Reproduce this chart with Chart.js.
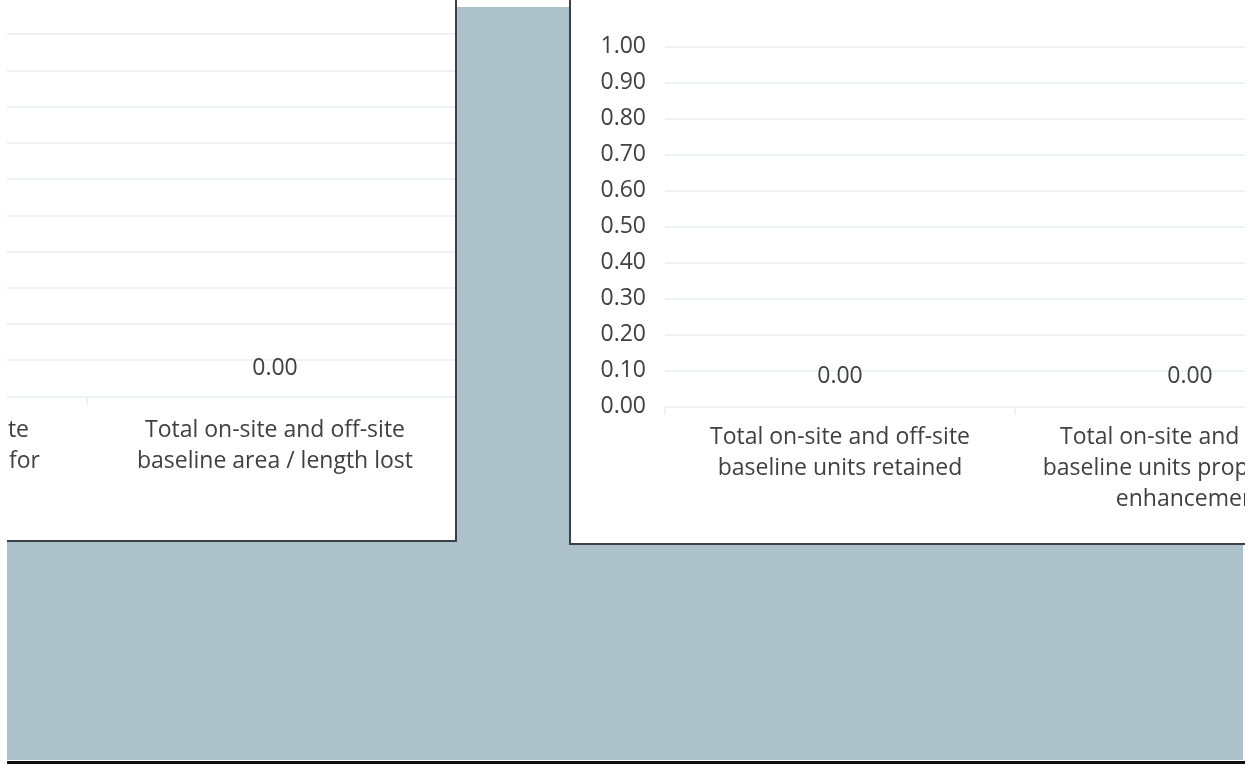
<!DOCTYPE html>
<html>
<head>
<meta charset="utf-8">
<script src="https://cdn.jsdelivr.net/npm/chart.js@4.4.1/dist/chart.umd.min.js"></script>
<style>
  html, body { margin: 0; padding: 0; background: #ffffff; }
  body { width: 1258px; height: 765px; position: relative; overflow: hidden; }
  #sheet { position: absolute; left: 7px; top: 7px; width: 1236px; height: 753px; background: #adc2c8; }
  #rule { position: absolute; left: 7px; top: 761px; width: 1238px; height: 3px; background: #0d0d0d; }
  .panel { position: absolute; background: #ffffff; overflow: hidden; border: 0 solid #3d3f4b; }
  #leftPanel { left: 7px; top: -10px; width: 448px; height: 550px; border-right-width: 2px; border-bottom-width: 2px; }
  #rightPanel { left: 569px; top: -10px; width: 674px; height: 553px; border-left-width: 2px; border-bottom-width: 2px; }
  canvas { position: absolute; }
  #leftChart { left: -766px; top: 10px; }
  #rightChart { left: 0px; top: 10px; }
</style>
</head>
<body>
<div id="sheet"></div>
<div id="rule"></div>
<div class="panel" id="leftPanel"><canvas id="leftChart" width="1222" height="541"></canvas></div>
<div class="panel" id="rightPanel"><canvas id="rightChart" width="1144" height="541"></canvas></div>
<script>
// ---- data ----
const areaCategories = [
  ["Total on-site and off-site", "baseline area / length retained"],
  ["Total on-site and off-site", "area / length proposed for", "enhancement"],
  ["Total on-site and off-site", "baseline area / length lost"]
];
const areaValues = [0, 0, 0];

const unitCategories = [
  ["Total on-site and off-site", "baseline units retained"],
  ["Total on-site and off-site", "baseline units proposed for", "enhancement"],
  ["Total on-site and off-site", "baseline units lost"]
];
const unitValues = [0, 0, 0];

const axisMin = 0;
const axisMax = 1;
const axisStep = 0.1;

// ---- style ----
const FONT = "'Open Sans'";
const FSIZE = 23;
const TEXT = "#404040";
const GRID = "#eff2f2";

const valueLabels = {
  id: "valueLabels",
  afterDatasetsDraw(chart) {
    const ctx = chart.ctx;
    const meta = chart.getDatasetMeta(0);
    const data = chart.data.datasets[0].data;
    const off = chart.options.plugins.valueLabels.offset;
    ctx.save();
    ctx.font = FSIZE + "px " + FONT;
    ctx.fillStyle = TEXT;
    ctx.textAlign = "center";
    ctx.textBaseline = "middle";
    meta.data.forEach((bar, i) => {
      ctx.fillText(Number(data[i]).toFixed(2), bar.x, bar.y - off);
    });
    ctx.restore();
  }
};

function makeChart(id, labels, values, yWidth, topPad, xHeight, labelPad, valOff) {
  return new Chart(document.getElementById(id), {
    type: "bar",
    data: {
      labels: labels,
      datasets: [{ data: values, backgroundColor: "#7f9fa8", borderWidth: 0 }]
    },
    plugins: [valueLabels],
    options: {
      responsive: false,
      animation: false,
      layout: { padding: { top: topPad, right: 0, bottom: 0, left: 0 } },
      plugins: { legend: { display: false }, tooltip: { enabled: false }, valueLabels: { offset: valOff } },
      scales: {
        x: {
          grid: { drawOnChartArea: false, drawTicks: true, tickLength: 8, color: GRID, lineWidth: 2 },
          border: { display: true, color: GRID, width: 2 },
          ticks: { color: TEXT, font: { family: FONT, size: FSIZE, lineHeight: 1.35 }, padding: labelPad, maxRotation: 0, autoSkip: false },
          afterFit(scale) { scale.height = xHeight; }
        },
        y: {
          min: axisMin, max: axisMax,
          grid: { drawTicks: false, color: GRID, lineWidth: 2 },
          border: { display: false },
          ticks: {
            stepSize: axisStep, color: TEXT, padding: 19,
            font: { family: FONT, size: FSIZE },
            callback: (v) => Number(v).toFixed(2)
          },
          afterFit(scale) { scale.width = yWidth; }
        }
      }
    }
  });
}

makeChart("leftChart", areaCategories, areaValues, 94, 34.3, 144.3, 10, 28);
makeChart("rightChart", unitCategories, unitValues, 94, 46.7, 134.3, 7, 30);
</script>
</body>
</html>
